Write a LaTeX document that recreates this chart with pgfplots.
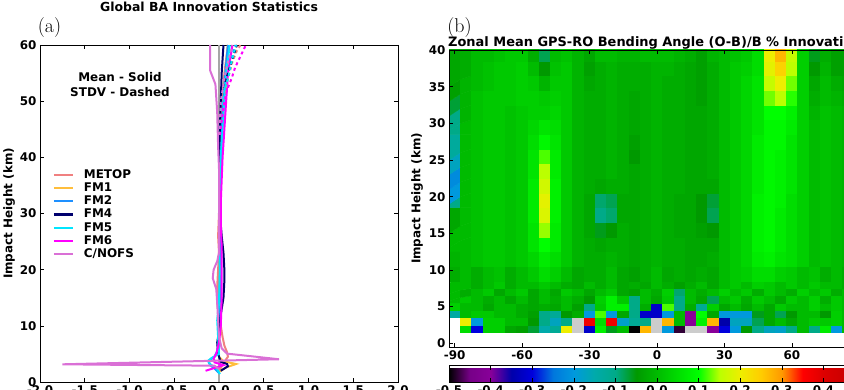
\documentclass[border=0pt]{standalone}
\usepackage{pgfplots}
\pgfplotsset{compat=1.18}
\usepackage{fontspec}
\newfontfamily\dvs{DejaVu Sans}
\newcommand\lab{\dvs\bfseries\fontsize{12}{14}\selectfont}
\definecolor{cMETOP}{RGB}{240,128,128}
\definecolor{cFMa}{RGB}{255,190,60}
\definecolor{cFMb}{RGB}{30,144,255}
\definecolor{cFMd}{RGB}{0,0,110}
\definecolor{cFMe}{RGB}{0,230,255}
\definecolor{cFMf}{RGB}{255,0,255}
\definecolor{cCNOFS}{RGB}{218,112,214}
\pgfplotsset{
  colormap={nipy}{rgb=(0,0,0) rgb=(0.4667,0,0.5333) rgb=(0.5333,0,0.6) rgb=(0,0,0.6667) rgb=(0,0,0.8667) rgb=(0,0.4667,0.8667) rgb=(0,0.6,0.8667) rgb=(0,0.6667,0.6667) rgb=(0,0.6667,0.5333) rgb=(0,0.6,0) rgb=(0,0.7333,0) rgb=(0,0.8667,0) rgb=(0,1,0) rgb=(0.7333,1,0) rgb=(0.9333,0.9333,0) rgb=(1,0.8,0) rgb=(1,0.6,0) rgb=(1,0,0) rgb=(0.8667,0,0) rgb=(0.8,0,0) rgb=(0.8,0.8,0.8)},
  myaxis/.style={scale only axis, tick label style={font=\lab}, label style={font=\lab},
    /pgf/number format/assume math mode=true, tick align=inside, major tick length=4bp,
    axis line style={line width=0.8bp}, every tick/.style={black, line width=0.6bp}},
  mean/.style={line width=2bp},
  stdv/.style={line width=2bp, dash pattern=on 3bp off 3bp, forget plot},
}
\begin{document}
\begin{tikzpicture}
\useasboundingbox (0,0) rectangle (844bp,390bp);
\clip (0,0) rectangle (844bp,390bp);
% ---------------- panel (a)
\begin{axis}[myaxis, at={(40bp,8bp)}, anchor=south west, width=358bp, height=337bp,
  xmin=-2, xmax=2, ymin=0, ymax=60,
  xtick={-2,-1.5,-1,-0.5,0,0.5,1,1.5,2}, ytick={0,10,20,30,40,50,60},
  xticklabel style={/pgf/number format/.cd, fixed, fixed zerofill, precision=1},
  ylabel={Impact Height (km)},
  ylabel style={at={(axis description cs:-0.0866,0.5)}, anchor=center},
  legend cell align=left,
  legend style={at={(axis description cs:0.035,0.635)}, anchor=north west, draw=none, fill=none,
    font=\lab, inner sep=0pt, row sep=0pt,
    nodes={inner sep=0pt, text height=10bp, text depth=3.2bp},
    /tikz/every odd column/.append style={column sep=10bp}},
  legend image code/.code={\draw[#1, line width=2.2bp] (0bp,0bp) -- (19bp,0bp);},
]
\addplot[gray!70, line width=1.5bp, forget plot] coordinates {(0,0) (0,60)};
\addplot[cMETOP, mean] coordinates {(0.0,1.8) (0.03,2.8) (0.06,3.6) (0.1,4.5) (0.09,5.3) (0.06,6.5) (0.04,8) (0.02,10) (0.0,12) (-0.02,14) (-0.02,17) (-0.01,20) (0.0,23) (-0.01,26) (0.0,30) (0.0,35) (0.01,40) (0.02,45) (0.04,50) (0.06,55) (0.1,60)};
\addlegendentry{METOP}
\addplot[cFMa, mean] coordinates {(0.0,1.8) (0.08,2.6) (0.19,3.2) (0.05,3.7) (0.0,4.5) (-0.01,6) (0.0,8) (0.0,12) (0.01,16) (0.01,20) (0.0,25) (0.0,30) (0.01,35) (0.02,40) (0.03,45) (0.05,50) (0.07,55) (0.1,60)};
\addlegendentry{FM1}
\addplot[cFMb, mean] coordinates {(0.0,1.6) (-0.05,2.4) (-0.1,3.0) (-0.12,3.7) (-0.05,4.5) (-0.02,5.5) (0.0,7) (0.0,10) (0.01,15) (0.01,20) (0.01,25) (0.0,30) (0.01,35) (0.02,40) (0.03,45) (0.05,50) (0.07,55) (0.1,60)};
\addlegendentry{FM2}
\addplot[cFMd, mean] coordinates {(0.02,2.0) (0.1,2.8) (0.09,3.2) (0.02,3.6) (-0.01,5) (-0.02,7) (0.0,9) (0.02,12) (0.05,15) (0.06,18) (0.06,20) (0.05,23) (0.03,26) (0.01,30) (0.0,35) (0.0,40) (0.01,45) (0.02,50) (0.03,55) (0.05,60)};
\addlegendentry{FM4}
\addplot[cFMe, mean] coordinates {(0.01,1.4) (-0.02,2.3) (-0.1,3.2) (-0.12,3.8) (-0.08,4.3) (0.0,5.0) (-0.01,8) (-0.02,11) (0.0,14) (0.01,20) (0.0,25) (0.0,30) (0.01,35) (0.02,40) (0.04,45) (0.06,50) (0.08,55) (0.12,60)};
\addlegendentry{FM5}
\addplot[cFMf, mean] coordinates {(-0.15,2.0) (-0.05,2.5) (0.05,3.0) (-0.05,3.5) (-0.06,4.2) (-0.03,5.0) (0.0,7) (0.02,10) (0.03,15) (0.03,20) (0.03,24) (0.02,28) (0.02,32) (0.03,36) (0.04,40) (0.06,45) (0.08,50) (0.1,55) (0.15,60)};
\addlegendentry{FM6}
\addplot[cCNOFS, mean] coordinates {(0.0,2.3) (-0.05,2.9) (-1.75,3.15) (0.67,4.05) (0.09,5.05) (0.03,6) (0.0,8) (-0.01,11) (-0.02,14) (-0.03,16.5) (-0.07,18.5) (-0.06,20) (-0.02,21.5) (0.0,23) (0.0,28) (0.0,33) (0.0,38) (-0.01,42) (-0.02,48) (-0.04,53) (-0.1,55.5) (-0.1,60)};
\addlegendentry{C/NOFS}
\addplot[cMETOP, stdv] coordinates {(0.0,44) (0.02,48) (0.05,51) (0.1,54) (0.15,57) (0.2,59) (0.24,60)};
\addplot[cFMa, stdv] coordinates {(0.0,44) (0.03,49) (0.07,52) (0.11,55) (0.16,58) (0.2,60)};
\addplot[cFMb, stdv] coordinates {(0.0,44) (0.03,48) (0.06,52) (0.1,55) (0.15,58) (0.18,60)};
\addplot[cFMd, stdv] coordinates {(0.0,44) (0.02,49) (0.03,52) (0.08,54) (0.12,56) (0.16,58) (0.2,60)};
\addplot[cFMe, stdv] coordinates {(0.0,44) (0.03,49) (0.06,52) (0.1,54) (0.14,57) (0.19,60)};
\addplot[cFMf, stdv] coordinates {(0.01,44) (0.05,49) (0.09,52) (0.14,54) (0.18,56) (0.24,58) (0.3,60)};
\addplot[cCNOFS, stdv] coordinates {(0.0,44) (0.02,50) (0.06,54) (0.1,57) (0.15,60)};
\end{axis}
% ---------------- panel (b)
\begin{axis}[myaxis, at={(449bp,43bp)}, anchor=south west, width=416bp, height=297bp,
  xmin=-92.5, xmax=92.5, ymin=-0.5, ymax=40, enlargelimits=false, axis on top,
  xtick={-90,-60,-30,0,30,60,90}, ytick={0,5,10,15,20,25,30,35,40},
  ylabel={Impact Height (km)},
  ylabel style={at={(axis description cs:-0.0769,0.5)}, anchor=center},
  colormap name=nipy, point meta min=-0.5, point meta max=0.5,
  colorbar horizontal,
  colorbar style={at={(parent axis.south west)}, anchor=north west, yshift=-10bp,
    width=416bp, height=17bp, scale only axis,
    xtick={-0.5,-0.4,-0.3,-0.2,-0.1,0,0.1,0.2,0.3,0.4,0.5},
    tick label style={font=\lab}, /pgf/number format/assume math mode=true,
    xticklabel style={/pgf/number format/.cd, fixed, fixed zerofill, precision=1}},
]
% rows 2-3 km, longitudes -85..90
\addplot[matrix plot*, mesh/cols=36, point meta=explicit] table[header=false, row sep=\\,
  x expr={-85+5*mod(\coordindex,36)}, y expr={2+floor(\coordindex/36)}, meta index=0] {
0.05\\ -0.30\\ 0.03\\ 0.03\\ -0.03\\ -0.04\\ -0.07\\ -0.15\\ -0.12\\ 0.20\\ 0.50\\ -0.32\\ 0.08\\ -0.06\\ 0.0\\ -0.50\\ 0.27\\ 0.50\\ -0.20\\ -0.48\\ 0.50\\ 0.50\\ -0.40\\ -0.30\\ -0.20\\ -0.05\\ -0.10\\ -0.17\\ -0.18\\ -0.10\\ 0.0\\ -0.10\\ 0.07\\ -0.20\\ 0.0\\ 0.0\\
0.20\\ -0.20\\ 0.03\\ 0.03\\ 0.0\\ 0.0\\ -0.05\\ -0.10\\ -0.17\\ -0.10\\ 0.50\\ 0.37\\ 0.05\\ 0.37\\ -0.18\\ -0.12\\ -0.10\\ 0.50\\ 0.27\\ 0.0\\ -0.40\\ 0.08\\ 0.27\\ -0.35\\ -0.17\\ -0.17\\ -0.08\\ -0.03\\ 0.0\\ -0.03\\ 0.0\\ 0.02\\ 0.02\\ 0.03\\ 0.0\\ 0.0\\
};
% rows 4-8 km
\addplot[matrix plot*, mesh/cols=37, point meta=explicit] table[header=false, row sep=\\,
  x expr={-90+5*mod(\coordindex,37)}, y expr={4+floor(\coordindex/37)}, meta index=0] {
-0.14\\ 0.0\\ 0.02\\ 0.02\\ 0.0\\ 0.0\\ -0.02\\ -0.04\\ -0.10\\ -0.12\\ -0.05\\ -0.02\\ -0.20\\ 0.12\\ -0.20\\ -0.03\\ -0.10\\ -0.32\\ -0.32\\ -0.20\\ 0.0\\ -0.40\\ 0.10\\ -0.03\\ -0.20\\ -0.20\\ -0.20\\ -0.06\\ -0.03\\ -0.08\\ -0.05\\ 0.0\\ 0.0\\ -0.05\\ 0.03\\ 0.0\\ 0.0\\
0.03\\ 0.0\\ 0.0\\ -0.03\\ 0.0\\ 0.0\\ -0.02\\ -0.03\\ -0.02\\ -0.03\\ 0.0\\ -0.04\\ -0.10\\ 0.02\\ 0.08\\ 0.08\\ -0.10\\ -0.02\\ -0.32\\ 0.12\\ -0.10\\ -0.02\\ -0.12\\ 0.03\\ -0.03\\ 0.0\\ -0.03\\ 0.0\\ -0.03\\ 0.02\\ 0.0\\ 0.0\\ 0.03\\ 0.0\\ 0.02\\ 0.0\\ 0.0\\
0.0\\ 0.02\\ 0.0\\ -0.02\\ 0.0\\ -0.03\\ 0.0\\ -0.03\\ 0.0\\ -0.02\\ 0.0\\ -0.02\\ -0.05\\ 0.03\\ 0.08\\ 0.02\\ -0.10\\ 0.0\\ -0.03\\ 0.02\\ -0.10\\ 0.0\\ -0.03\\ -0.08\\ 0.0\\ 0.02\\ -0.02\\ 0.02\\ 0.0\\ -0.03\\ 0.02\\ 0.0\\ 0.03\\ -0.02\\ 0.02\\ 0.0\\ 0.0\\
0.0\\ -0.02\\ 0.0\\ 0.02\\ -0.03\\ 0.0\\ 0.02\\ -0.03\\ 0.0\\ -0.03\\ 0.02\\ 0.0\\ -0.03\\ 0.0\\ 0.02\\ -0.03\\ -0.04\\ 0.0\\ -0.02\\ 0.03\\ -0.09\\ 0.0\\ -0.02\\ 0.0\\ 0.03\\ 0.0\\ 0.02\\ -0.02\\ 0.02\\ 0.0\\ -0.02\\ 0.03\\ 0.0\\ 0.02\\ -0.02\\ 0.0\\ 0.0\\
0.0\\ 0.0\\ -0.02\\ 0.0\\ 0.02\\ -0.02\\ 0.0\\ 0.0\\ 0.02\\ 0.0\\ -0.02\\ -0.03\\ 0.0\\ -0.02\\ 0.0\\ -0.03\\ -0.02\\ -0.03\\ 0.0\\ -0.02\\ -0.04\\ -0.02\\ 0.0\\ -0.03\\ 0.0\\ 0.02\\ 0.0\\ 0.03\\ 0.02\\ 0.0\\ 0.02\\ 0.0\\ 0.02\\ 0.0\\ 0.0\\ -0.02\\ 0.0\\
};
% rows 9.5-39.5 km, 2 km bands
\addplot[matrix plot*, mesh/cols=37, point meta=explicit] table[header=false, row sep=\\,
  x expr={-90+5*mod(\coordindex,37)}, y expr={9.5+2*floor(\coordindex/37)}, meta index=0] {
-0.02\\ 0.0\\ -0.02\\ 0.0\\ 0.01\\ -0.02\\ 0.0\\ 0.02\\ 0.05\\ 0.03\\ 0.0\\ -0.03\\ -0.02\\ -0.02\\ 0.0\\ -0.03\\ -0.04\\ -0.02\\ 0.0\\ -0.03\\ -0.02\\ -0.03\\ -0.02\\ -0.03\\ 0.0\\ 0.02\\ 0.03\\ 0.05\\ 0.05\\ 0.03\\ 0.02\\ 0.0\\ 0.01\\ -0.02\\ 0.0\\ -0.02\\ 0.0\\
-0.01\\ 0.0\\ 0.01\\ 0.02\\ 0.02\\ 0.01\\ 0.02\\ 0.04\\ 0.07\\ 0.05\\ 0.02\\ -0.01\\ -0.02\\ -0.02\\ -0.01\\ -0.02\\ -0.03\\ -0.02\\ -0.01\\ -0.02\\ -0.02\\ -0.03\\ -0.03\\ -0.02\\ 0.0\\ 0.02\\ 0.04\\ 0.07\\ 0.08\\ 0.06\\ 0.05\\ 0.03\\ 0.0\\ 0.01\\ 0.0\\ -0.01\\ 0.0\\
0.0\\ 0.0\\ 0.01\\ 0.02\\ 0.02\\ 0.01\\ 0.02\\ 0.06\\ 0.10\\ 0.07\\ 0.02\\ -0.01\\ -0.02\\ -0.03\\ -0.02\\ -0.02\\ -0.03\\ -0.02\\ -0.01\\ -0.02\\ -0.02\\ -0.03\\ -0.03\\ -0.03\\ 0.0\\ 0.02\\ 0.04\\ 0.08\\ 0.09\\ 0.07\\ 0.05\\ 0.03\\ 0.0\\ 0.01\\ 0.0\\ -0.01\\ 0.0\\
0.0\\ 0.0\\ 0.01\\ 0.02\\ 0.02\\ 0.01\\ 0.02\\ 0.06\\ 0.14\\ 0.07\\ 0.02\\ -0.01\\ -0.03\\ -0.06\\ -0.05\\ -0.02\\ -0.03\\ -0.02\\ -0.01\\ -0.02\\ -0.03\\ -0.03\\ -0.04\\ -0.05\\ 0.0\\ 0.02\\ 0.04\\ 0.08\\ 0.09\\ 0.07\\ 0.05\\ 0.03\\ 0.0\\ 0.01\\ 0.0\\ -0.01\\ 0.0\\
-0.03\\ 0.0\\ 0.01\\ 0.02\\ 0.02\\ 0.01\\ 0.02\\ 0.07\\ 0.18\\ 0.08\\ 0.02\\ -0.01\\ -0.03\\ -0.10\\ -0.09\\ -0.03\\ -0.03\\ -0.02\\ -0.01\\ -0.02\\ -0.03\\ -0.03\\ -0.05\\ -0.08\\ 0.0\\ 0.02\\ 0.04\\ 0.08\\ 0.09\\ 0.07\\ 0.05\\ 0.03\\ 0.0\\ 0.01\\ 0.0\\ -0.01\\ 0.0\\
-0.10\\ 0.0\\ 0.01\\ 0.02\\ 0.02\\ 0.01\\ 0.02\\ 0.07\\ 0.19\\ 0.08\\ 0.02\\ -0.01\\ -0.03\\ -0.09\\ -0.08\\ -0.03\\ -0.03\\ -0.02\\ -0.01\\ -0.02\\ -0.03\\ -0.03\\ -0.05\\ -0.07\\ 0.0\\ 0.02\\ 0.04\\ 0.08\\ 0.09\\ 0.08\\ 0.05\\ 0.03\\ 0.0\\ 0.01\\ 0.0\\ -0.01\\ 0.0\\
-0.20\\ 0.0\\ 0.01\\ 0.02\\ 0.02\\ 0.01\\ 0.02\\ 0.07\\ 0.17\\ 0.08\\ 0.02\\ -0.01\\ -0.02\\ -0.03\\ -0.02\\ -0.02\\ -0.03\\ -0.02\\ -0.01\\ -0.02\\ -0.02\\ -0.03\\ -0.03\\ -0.03\\ 0.0\\ 0.02\\ 0.04\\ 0.07\\ 0.09\\ 0.08\\ 0.06\\ 0.03\\ 0.0\\ 0.01\\ 0.0\\ -0.01\\ 0.0\\
-0.22\\ 0.0\\ 0.01\\ 0.02\\ 0.02\\ 0.01\\ 0.02\\ 0.06\\ 0.15\\ 0.07\\ 0.02\\ -0.01\\ -0.02\\ -0.02\\ -0.01\\ -0.02\\ -0.03\\ -0.02\\ -0.01\\ -0.02\\ -0.02\\ -0.03\\ -0.03\\ -0.02\\ 0.0\\ 0.02\\ 0.04\\ 0.07\\ 0.09\\ 0.08\\ 0.06\\ 0.03\\ 0.0\\ 0.01\\ 0.0\\ -0.01\\ 0.0\\
-0.17\\ 0.0\\ 0.01\\ 0.02\\ 0.02\\ 0.01\\ 0.02\\ 0.06\\ 0.12\\ 0.07\\ 0.02\\ -0.01\\ -0.02\\ -0.02\\ -0.01\\ -0.02\\ -0.05\\ -0.02\\ -0.01\\ -0.02\\ -0.02\\ -0.03\\ -0.03\\ -0.02\\ 0.0\\ 0.02\\ 0.04\\ 0.07\\ 0.09\\ 0.08\\ 0.06\\ 0.03\\ 0.0\\ 0.01\\ 0.0\\ -0.01\\ 0.0\\
-0.13\\ 0.0\\ 0.01\\ 0.02\\ 0.02\\ 0.01\\ 0.02\\ 0.05\\ 0.09\\ 0.06\\ 0.02\\ -0.01\\ -0.02\\ -0.02\\ -0.01\\ -0.02\\ -0.04\\ -0.02\\ -0.01\\ -0.02\\ -0.02\\ -0.03\\ -0.03\\ -0.02\\ 0.0\\ 0.02\\ 0.04\\ 0.07\\ 0.09\\ 0.09\\ 0.06\\ 0.03\\ 0.0\\ 0.01\\ 0.0\\ -0.01\\ 0.0\\
-0.10\\ 0.0\\ 0.01\\ 0.02\\ 0.02\\ 0.01\\ 0.02\\ 0.04\\ 0.06\\ 0.05\\ 0.02\\ -0.01\\ -0.02\\ -0.02\\ -0.01\\ -0.02\\ -0.03\\ -0.02\\ -0.01\\ -0.02\\ -0.02\\ -0.03\\ -0.03\\ -0.02\\ 0.0\\ 0.02\\ 0.04\\ 0.06\\ 0.09\\ 0.09\\ 0.07\\ 0.03\\ 0.0\\ 0.01\\ 0.0\\ -0.01\\ 0.0\\
-0.10\\ -0.01\\ 0.01\\ 0.02\\ 0.02\\ 0.01\\ 0.02\\ 0.03\\ 0.03\\ 0.04\\ 0.02\\ -0.01\\ -0.02\\ -0.02\\ -0.01\\ -0.02\\ -0.03\\ -0.02\\ -0.01\\ -0.02\\ -0.02\\ -0.03\\ -0.03\\ -0.02\\ 0.0\\ 0.02\\ 0.04\\ 0.06\\ 0.10\\ 0.10\\ 0.08\\ 0.03\\ -0.01\\ 0.01\\ 0.0\\ -0.01\\ 0.0\\
-0.07\\ -0.01\\ 0.01\\ 0.02\\ 0.02\\ 0.02\\ 0.03\\ 0.03\\ 0.02\\ 0.03\\ 0.02\\ -0.01\\ -0.02\\ -0.02\\ -0.01\\ -0.02\\ -0.03\\ -0.02\\ -0.01\\ -0.02\\ -0.02\\ -0.03\\ -0.04\\ -0.02\\ 0.0\\ 0.02\\ 0.04\\ 0.06\\ 0.13\\ 0.15\\ 0.11\\ 0.03\\ -0.02\\ 0.0\\ -0.01\\ -0.02\\ 0.0\\
-0.04\\ -0.01\\ 0.0\\ 0.01\\ 0.02\\ 0.02\\ 0.03\\ 0.02\\ -0.01\\ 0.02\\ 0.02\\ -0.01\\ -0.03\\ -0.02\\ -0.01\\ -0.02\\ -0.02\\ -0.02\\ -0.01\\ -0.02\\ -0.02\\ -0.03\\ -0.04\\ -0.02\\ 0.0\\ 0.02\\ 0.04\\ 0.06\\ 0.16\\ 0.20\\ 0.13\\ 0.03\\ -0.03\\ 0.0\\ -0.02\\ -0.03\\ -0.02\\
-0.03\\ -0.02\\ 0.0\\ 0.01\\ 0.02\\ 0.02\\ 0.03\\ 0.0\\ -0.05\\ 0.01\\ 0.02\\ -0.01\\ -0.04\\ -0.02\\ -0.01\\ -0.02\\ -0.02\\ -0.02\\ -0.01\\ -0.01\\ -0.02\\ -0.03\\ -0.04\\ -0.02\\ 0.0\\ 0.02\\ 0.03\\ 0.05\\ 0.19\\ 0.24\\ 0.15\\ 0.03\\ -0.05\\ -0.01\\ -0.04\\ -0.04\\ -0.03\\
-0.03\\ -0.02\\ 0.0\\ 0.0\\ 0.01\\ 0.02\\ 0.02\\ -0.02\\ -0.08\\ 0.0\\ 0.01\\ -0.01\\ -0.03\\ 0.0\\ 0.0\\ -0.01\\ -0.01\\ 0.0\\ 0.0\\ 0.0\\ -0.01\\ -0.02\\ -0.04\\ -0.01\\ 0.0\\ 0.01\\ 0.02\\ 0.05\\ 0.20\\ 0.27\\ 0.16\\ 0.03\\ -0.06\\ -0.02\\ -0.04\\ -0.04\\ -0.03\\
};
\end{axis}
% ---------------- titles and notes
\node[font=\dvs\bfseries\fontsize{12.5}{14}\selectfont, anchor=base] at (209bp,378.5bp) {Global BA Innovation Statistics};
\node[font=\fontsize{20}{22}\selectfont, anchor=base] at (49.5bp,357bp) {(a)};
\node[font=\fontsize{20}{22}\selectfont, anchor=base] at (459.5bp,357.5bp) {(b)};
\node[font=\dvs\bfseries\fontsize{13}{15}\selectfont, anchor=base west, inner sep=0pt] at (448bp,343bp) {Zonal Mean GPS-RO Bending Angle (O-B)/B \% Innovation};
\node[font=\lab, anchor=base] at (120bp,308bp) {Mean - Solid};
\node[font=\lab, anchor=base] at (120bp,293bp) {STDV - Dashed};
\end{tikzpicture}
\end{document}
